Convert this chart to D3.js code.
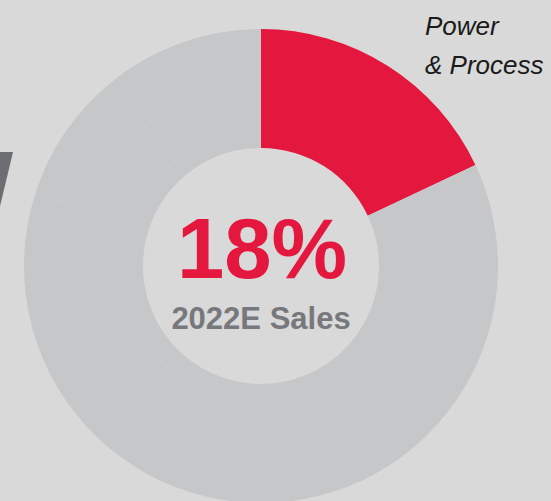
<!DOCTYPE html>
<html>
<head>
<meta charset="utf-8">
<script src="https://cdn.jsdelivr.net/npm/d3@7.9.0/dist/d3.min.js"></script>
<style>
  html, body { margin: 0; padding: 0; background: #d9d9d9; }
  svg { display: block; }
</style>
</head>
<body>
<svg id="chart" width="551" height="501"></svg>
<script>
// share of 2022E sales by segment; first one is the highlighted one
const segments = ['Power & Process', 'Other A', 'Other B', 'Other C', 'Other D', 'Other E'];
const shares = [18, 15, 29, 18, 9, 11];
const centerValue = '18%';
const centerLabel = '2022E Sales';
const calloutLines = ['Power', '& Process'];

const width = 551;
const height = 501;
const cx = 261;
const cy = 266;
const outerR = 237;
const innerR = 118;

const svg = d3.select('#chart');

svg.append('rect')
  .attr('width', width)
  .attr('height', height)
  .attr('fill', '#d9d9d9');

// dark slash at left edge (decoration from the slide)
svg.append('path')
  .attr('d', 'M-20,152 L13,152 L-20,290 Z')
  .attr('fill', '#6d6e71');

const data = segments.map((s, i) => ({ label: s, value: shares[i] }));

const pie = d3.pie()
  .value((d) => d.value)
  .sort(null);

const arcGen = d3.arc().innerRadius(innerR).outerRadius(outerR);

const g = svg.append('g').attr('transform', `translate(${cx},${cy})`);

g.selectAll('path')
  .data(pie(data))
  .enter()
  .append('path')
  .attr('d', arcGen)
  .attr('fill', (d, i) => (i === 0 ? '#e4183f' : '#c6c7c9'));

g.append('text')
  .attr('x', 1)
  .attr('y', 12)
  .attr('text-anchor', 'middle')
  .attr('font-family', 'Liberation Sans, Arial, sans-serif')
  .attr('font-weight', 'bold')
  .attr('font-size', 85)
  .attr('fill', '#e4183f')
  .text(centerValue);

g.append('text')
  .attr('x', 0)
  .attr('y', 63)
  .attr('text-anchor', 'middle')
  .attr('font-family', 'Liberation Sans, Arial, sans-serif')
  .attr('font-weight', 'bold')
  .attr('font-size', 31)
  .attr('fill', '#77787b')
  .text(centerLabel);

svg.append('g')
  .selectAll('text')
  .data(calloutLines)
  .enter()
  .append('text')
  .attr('x', 425)
  .attr('y', (d, i) => 35 + i * 39)
  .attr('font-family', 'Liberation Sans, Arial, sans-serif')
  .attr('font-style', 'italic')
  .attr('font-size', 26)
  .attr('fill', '#1a1a1a')
  .text((d) => d);
</script>
</body>
</html>
